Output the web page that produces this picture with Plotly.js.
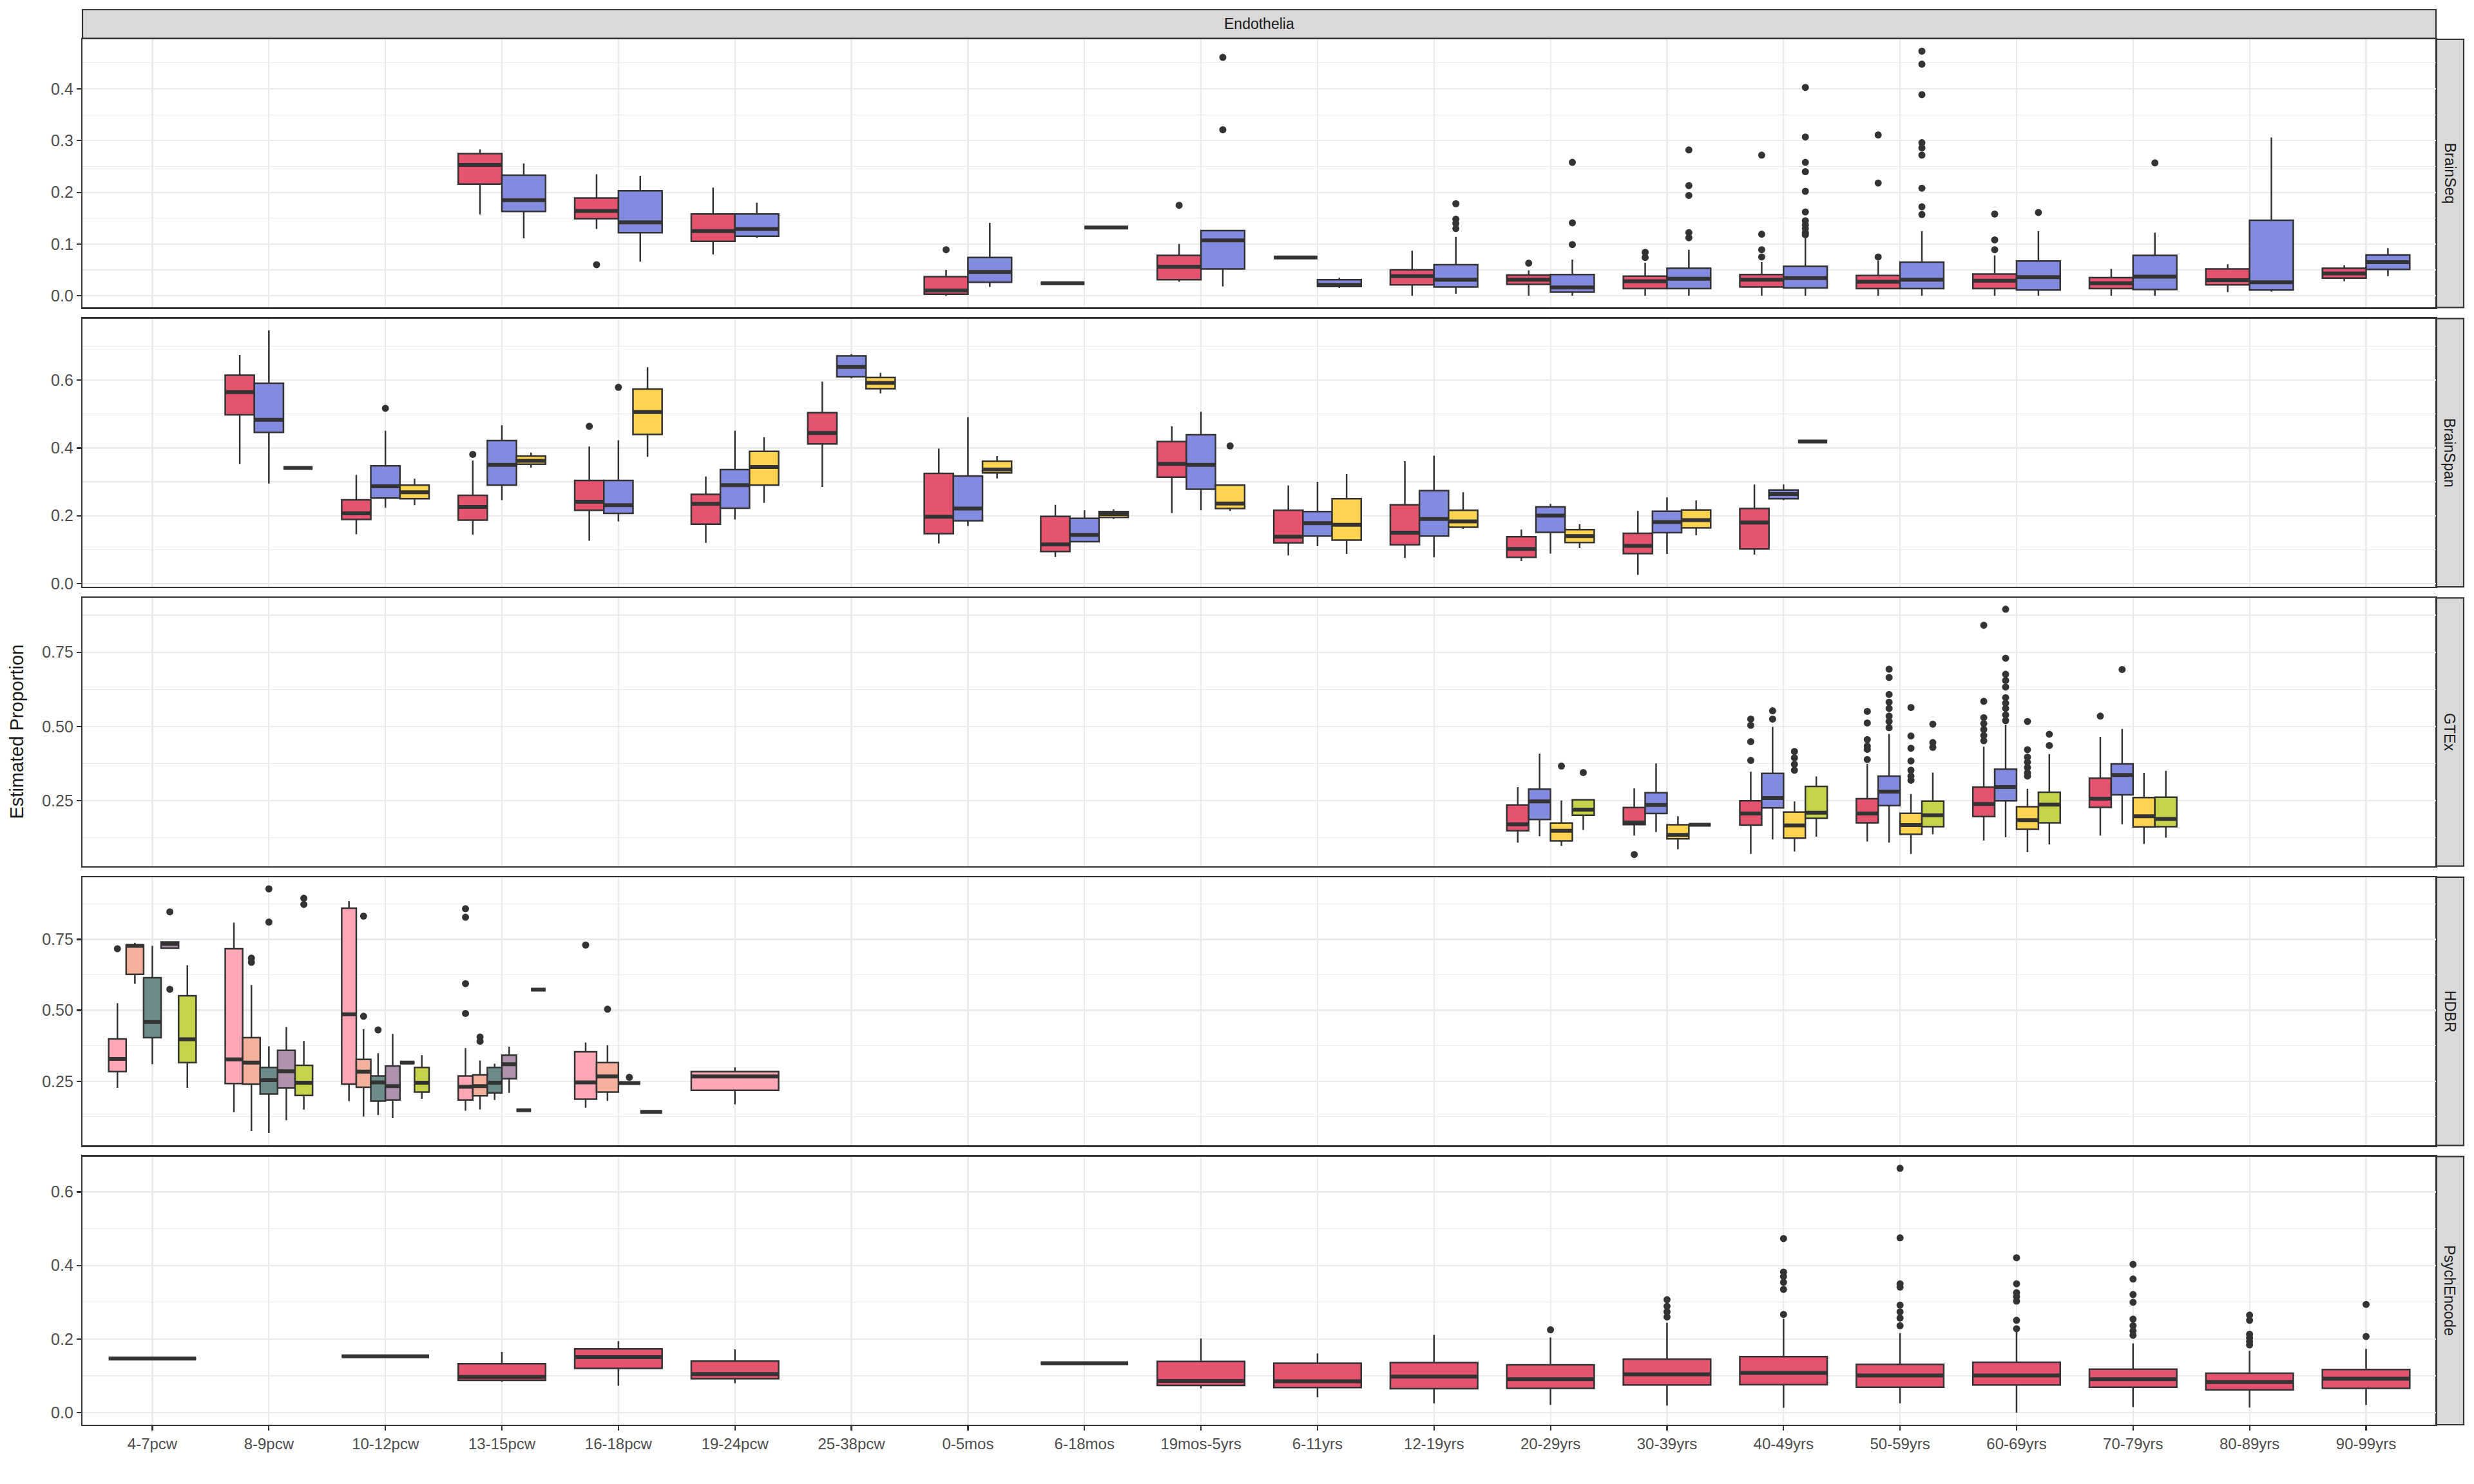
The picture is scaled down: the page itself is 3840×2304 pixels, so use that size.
<!DOCTYPE html>
<html><head><meta charset="utf-8">
<script src="https://cdn.plot.ly/plotly-3.0.1.min.js"></script>
<style>html,body{margin:0;padding:0;background:#fff}</style>
</head><body><div id="chart" style="width:3840px;height:2304px"></div>
<script>
// ---------- DATA ----------
const categories = ['4-7pcw','8-9pcw','10-12pcw','13-15pcw','16-18pcw','19-24pcw','25-38pcw','0-5mos','6-18mos','19mos-5yrs',
  '6-11yrs','12-19yrs','20-29yrs','30-39yrs','40-49yrs','50-59yrs','60-69yrs','70-79yrs','80-89yrs','90-99yrs'];
const facetTitle = 'Endothelia';
const panelNames = ['BrainSeq','BrainSpan','GTEx','HDBR','PsychEncode'];
const yTitle = 'Estimated Proportion';

// rows: [category, lower whisker, q1, median, q3, upper whisker]; outliers: [category, values...]
const brainSeqRed = [
  ['13-15pcw',0.157,0.216,0.253,0.275,0.283],['16-18pcw',0.129,0.149,0.164,0.189,0.235],['19-24pcw',0.080,0.105,0.125,0.158,0.209],
  ['0-5mos',0.000,0.003,0.010,0.037,0.050],['6-18mos',0.024,0.024,0.024,0.024,0.024],['19mos-5yrs',0.027,0.031,0.056,0.078,0.100],
  ['6-11yrs',0.074,0.074,0.074,0.074,0.074],['12-19yrs',0.000,0.021,0.038,0.050,0.087],['20-29yrs',0.000,0.022,0.031,0.040,0.049],
  ['30-39yrs',0.000,0.014,0.028,0.038,0.064],['40-49yrs',0.000,0.017,0.031,0.041,0.065],['50-59yrs',0.000,0.014,0.027,0.039,0.068],
  ['60-69yrs',0.000,0.014,0.029,0.042,0.078],['70-79yrs',0.000,0.014,0.024,0.035,0.052],['80-89yrs',0.007,0.021,0.030,0.052,0.061],
  ['90-99yrs',0.028,0.034,0.043,0.053,0.059]];
const brainSeqRedOut = [['16-18pcw',0.060],['0-5mos',0.089],['19mos-5yrs',0.175],['20-29yrs',0.063],['30-39yrs',0.084,0.074],
  ['40-49yrs',0.272,0.119,0.089,0.075],['50-59yrs',0.311,0.218,0.075],['60-69yrs',0.158,0.108,0.089]];
const brainSeqBlue = [
  ['13-15pcw',0.111,0.163,0.185,0.233,0.256],['16-18pcw',0.066,0.122,0.142,0.203,0.232],['19-24pcw',0.112,0.115,0.129,0.158,0.180],
  ['0-5mos',0.017,0.026,0.046,0.074,0.141],['6-18mos',0.132,0.132,0.132,0.132,0.132],['19mos-5yrs',0.018,0.052,0.107,0.126,0.126],
  ['6-11yrs',0.015,0.018,0.021,0.031,0.035],['12-19yrs',0.004,0.017,0.031,0.060,0.114],['20-29yrs',0.000,0.007,0.016,0.041,0.070],
  ['30-39yrs',0.000,0.014,0.033,0.053,0.089],['40-49yrs',0.000,0.015,0.034,0.057,0.114],['50-59yrs',0.000,0.014,0.031,0.065,0.125],
  ['60-69yrs',0.000,0.011,0.036,0.067,0.125],['70-79yrs',0.000,0.012,0.037,0.078,0.122],['80-89yrs',0.008,0.011,0.026,0.146,0.306],
  ['90-99yrs',0.038,0.051,0.065,0.079,0.092]];
const brainSeqBlueOut = [['19mos-5yrs',0.321,0.461],['12-19yrs',0.178,0.148,0.140,0.130],['20-29yrs',0.258,0.141,0.099],
  ['30-39yrs',0.282,0.213,0.194,0.122,0.112],['40-49yrs',0.403,0.307,0.258,0.240,0.202,0.162,0.145,0.137,0.130,0.122,0.118],
  ['50-59yrs',0.473,0.448,0.389,0.296,0.286,0.272,0.208,0.172,0.157],['60-69yrs',0.161],['70-79yrs',0.257]];

const brainSpanRed = [
  ['8-9pcw',0.353,0.498,0.565,0.615,0.675],['10-12pcw',0.145,0.189,0.207,0.247,0.320],['13-15pcw',0.144,0.187,0.226,0.260,0.363],
  ['16-18pcw',0.126,0.216,0.241,0.304,0.404],['19-24pcw',0.120,0.175,0.235,0.263,0.316],['25-38pcw',0.285,0.412,0.444,0.504,0.596],
  ['0-5mos',0.118,0.147,0.197,0.325,0.398],['6-18mos',0.078,0.094,0.115,0.198,0.232],['19mos-5yrs',0.208,0.314,0.353,0.419,0.464],
  ['6-11yrs',0.083,0.120,0.138,0.216,0.289],['12-19yrs',0.075,0.114,0.150,0.232,0.361],['20-29yrs',0.066,0.077,0.102,0.138,0.159],
  ['30-39yrs',0.025,0.088,0.111,0.148,0.214],['40-49yrs',0.085,0.102,0.180,0.221,0.292]];
const brainSpanRedOut = [['13-15pcw',0.381],['16-18pcw',0.464]];
const brainSpanBlue = [
  ['8-9pcw',0.295,0.446,0.483,0.591,0.747],['10-12pcw',0.224,0.252,0.287,0.347,0.451],['13-15pcw',0.246,0.290,0.350,0.422,0.467],
  ['16-18pcw',0.183,0.207,0.231,0.304,0.423],['19-24pcw',0.189,0.222,0.290,0.336,0.451],['25-38pcw',0.606,0.610,0.639,0.672,0.677],
  ['0-5mos',0.170,0.185,0.221,0.317,0.491],['6-18mos',0.123,0.123,0.143,0.192,0.216],['19mos-5yrs',0.216,0.278,0.350,0.439,0.507],
  ['6-11yrs',0.110,0.140,0.178,0.212,0.300],['12-19yrs',0.077,0.140,0.190,0.274,0.377],['20-29yrs',0.088,0.151,0.200,0.226,0.235],
  ['30-39yrs',0.087,0.150,0.181,0.213,0.254],['40-49yrs',0.246,0.250,0.264,0.276,0.292]];
const brainSpanBlueOut = [['10-12pcw',0.517],['16-18pcw',0.579]];
const brainSpanYellow = [
  ['8-9pcw',0.341,0.341,0.341,0.341,0.341],['10-12pcw',0.231,0.250,0.269,0.290,0.309],['13-15pcw',0.342,0.352,0.362,0.376,0.386],
  ['16-18pcw',0.374,0.440,0.506,0.574,0.638],['19-24pcw',0.238,0.290,0.344,0.390,0.432],['25-38pcw',0.561,0.575,0.592,0.608,0.622],
  ['0-5mos',0.310,0.326,0.336,0.361,0.376],['6-18mos',0.190,0.195,0.205,0.212,0.219],['19mos-5yrs',0.214,0.221,0.236,0.290,0.290],
  ['6-11yrs',0.087,0.128,0.173,0.250,0.323],['12-19yrs',0.161,0.166,0.183,0.216,0.269],['20-29yrs',0.104,0.121,0.140,0.159,0.175],
  ['30-39yrs',0.142,0.164,0.187,0.217,0.245],['40-49yrs',0.419,0.419,0.419,0.419,0.419]];
const brainSpanYellowOut = [['19mos-5yrs',0.406]];

const gtexRed = [
  ['20-29yrs',0.109,0.149,0.171,0.236,0.296],['30-39yrs',0.133,0.170,0.177,0.227,0.292],['40-49yrs',0.071,0.168,0.207,0.250,0.348],
  ['50-59yrs',0.113,0.176,0.207,0.257,0.374],['60-69yrs',0.116,0.197,0.239,0.296,0.432],['70-79yrs',0.133,0.228,0.257,0.326,0.465]];
const gtexRedOut = [['30-39yrs',0.069],['40-49yrs',0.525,0.504,0.449,0.386],['50-59yrs',0.551,0.512,0.456,0.434,0.423,0.389],
  ['60-69yrs',0.841,0.585,0.530,0.510,0.490,0.470,0.452],['70-79yrs',0.535]];
const gtexBlue = [
  ['20-29yrs',0.131,0.187,0.248,0.289,0.409],['30-39yrs',0.145,0.207,0.236,0.277,0.376],['40-49yrs',0.120,0.226,0.259,0.342,0.499],
  ['50-59yrs',0.109,0.234,0.281,0.333,0.475],['60-69yrs',0.127,0.250,0.296,0.356,0.506],['70-79yrs',0.171,0.270,0.337,0.374,0.492]];
const gtexBlueOut = [['40-49yrs',0.553,0.525],['50-59yrs',0.693,0.665,0.608,0.582,0.561,0.535,0.517,0.496],
  ['60-69yrs',0.895,0.730,0.676,0.655,0.633,0.597,0.579,0.561,0.539,0.520],['70-79yrs',0.692]];
const gtexYellow = [
  ['20-29yrs',0.098,0.115,0.149,0.175,0.251],['30-39yrs',0.087,0.122,0.135,0.169,0.198],['40-49yrs',0.079,0.124,0.167,0.212,0.248],
  ['50-59yrs',0.071,0.137,0.168,0.208,0.273],['60-69yrs',0.077,0.154,0.185,0.230,0.290],['70-79yrs',0.105,0.162,0.198,0.261,0.344]];
const gtexYellowOut = [['20-29yrs',0.367],['40-49yrs',0.416,0.395,0.373,0.353],['50-59yrs',0.564,0.468,0.427,0.384,0.353,0.333,0.319],
  ['60-69yrs',0.517,0.422,0.397,0.380,0.362,0.344,0.333]];
const gtexGreen = [
  ['20-29yrs',0.152,0.201,0.220,0.253,0.253],['30-39yrs',0.169,0.169,0.169,0.169,0.169],['40-49yrs',0.129,0.191,0.210,0.298,0.332],
  ['50-59yrs',0.137,0.163,0.201,0.249,0.345],['60-69yrs',0.103,0.176,0.237,0.279,0.407],['70-79yrs',0.126,0.163,0.189,0.262,0.351]];
const gtexGreenOut = [['20-29yrs',0.345],['50-59yrs',0.508,0.446,0.430],['60-69yrs',0.474,0.436]];

const hdbrPink = [
  ['4-7pcw',0.227,0.284,0.329,0.399,0.525],['8-9pcw',0.141,0.242,0.327,0.717,0.809],['10-12pcw',0.180,0.240,0.486,0.860,0.885],
  ['13-15pcw',0.146,0.184,0.231,0.269,0.367],['16-18pcw',0.157,0.187,0.246,0.354,0.387],['19-24pcw',0.169,0.218,0.267,0.284,0.299]];
const hdbrPinkOut = [['4-7pcw',0.717],['13-15pcw',0.858,0.828,0.594,0.489],['16-18pcw',0.730]];
const hdbrSalmon = [
  ['4-7pcw',0.593,0.627,0.727,0.730,0.738],['8-9pcw',0.075,0.240,0.316,0.404,0.589],['10-12pcw',0.126,0.229,0.284,0.327,0.434],
  ['13-15pcw',0.151,0.199,0.233,0.273,0.323],['16-18pcw',0.181,0.212,0.267,0.316,0.377]];
const hdbrSalmonOut = [['8-9pcw',0.684,0.669],['10-12pcw',0.832,0.479],['13-15pcw',0.406,0.391],['16-18pcw',0.504]];
const hdbrTeal = [
  ['4-7pcw',0.310,0.404,0.459,0.615,0.727],['8-9pcw',0.068,0.205,0.254,0.299,0.373],['10-12pcw',0.131,0.180,0.246,0.269,0.349],
  ['13-15pcw',0.184,0.209,0.245,0.299,0.312],['16-18pcw',0.244,0.244,0.244,0.244,0.244]];
const hdbrTealOut = [['8-9pcw',0.928,0.811],['10-12pcw',0.431],['16-18pcw',0.264]];
const hdbrMauve = [
  ['4-7pcw',0.719,0.719,0.734,0.741,0.741],['8-9pcw',0.113,0.226,0.285,0.359,0.441],['10-12pcw',0.120,0.184,0.233,0.304,0.417],
  ['13-15pcw',0.209,0.259,0.310,0.342,0.372],['16-18pcw',0.142,0.142,0.142,0.142,0.142]];
const hdbrMauveOut = [['4-7pcw',0.847,0.574]];
const hdbrOther = [['10-12pcw',0.316,0.316,0.316,0.316,0.316],['13-15pcw',0.148,0.148,0.148,0.148,0.148]];
const hdbrOtherOut = [];
const hdbrGreen = [
  ['4-7pcw',0.227,0.316,0.398,0.551,0.659],['8-9pcw',0.150,0.200,0.245,0.306,0.392],['10-12pcw',0.188,0.212,0.245,0.299,0.342],
  ['13-15pcw',0.573,0.573,0.573,0.573,0.573]];
const hdbrGreenOut = [['8-9pcw',0.895,0.873]];

const psychRed = [
  ['4-7pcw',0.147,0.147,0.147,0.147,0.147],['10-12pcw',0.153,0.153,0.153,0.153,0.153],['13-15pcw',0.084,0.088,0.097,0.133,0.165],
  ['16-18pcw',0.073,0.120,0.151,0.173,0.194],['19-24pcw',0.080,0.092,0.105,0.140,0.172],['6-18mos',0.134,0.134,0.134,0.134,0.134],
  ['19mos-5yrs',0.066,0.074,0.086,0.139,0.201],['6-11yrs',0.042,0.068,0.085,0.134,0.161],['12-19yrs',0.025,0.065,0.098,0.136,0.211],
  ['20-29yrs',0.021,0.066,0.091,0.130,0.204],['30-39yrs',0.019,0.075,0.104,0.145,0.244],['40-49yrs',0.013,0.076,0.108,0.152,0.255],
  ['50-59yrs',0.025,0.069,0.101,0.131,0.216],['60-69yrs',0.000,0.075,0.101,0.137,0.219],['70-79yrs',0.015,0.069,0.091,0.118,0.188],
  ['80-89yrs',0.014,0.062,0.083,0.107,0.168],['90-99yrs',0.021,0.066,0.092,0.117,0.173]];
const psychRedOut = [['20-29yrs',0.225],['30-39yrs',0.307,0.289,0.274,0.260],['40-49yrs',0.473,0.382,0.370,0.354,0.335,0.267],
  ['50-59yrs',0.664,0.475,0.350,0.341,0.292,0.274,0.257,0.236],['60-69yrs',0.421,0.350,0.326,0.315,0.303,0.251,0.228],
  ['70-79yrs',0.403,0.363,0.321,0.300,0.254,0.236,0.222,0.210],['80-89yrs',0.265,0.251,0.213,0.203,0.193,0.184],['90-99yrs',0.294,0.207]];

// ---------- STYLE ----------
const C = {red:'#E6536E', blue:'#828BE0', yellow:'#FED350', green:'#C6D24A',
  pink:'#FFA6B5', salmon:'#F4B09B', teal:'#6D8B8B', mauve:'#AE92AE', other:'#9FB3CF'};
const DARK = '#333333', GRID = '#EBEBEB', FONT = 'Liberation Sans, Arial, Helvetica, sans-serif';

const panels = [
  {range:[-0.0228,0.496], ticks:[0,0.1,0.2,0.3,0.4], minor:[0.05,0.15,0.25,0.35,0.45], dec:1,
   groups:[{fill:C.red,rows:brainSeqRed,out:brainSeqRedOut},{fill:C.blue,rows:brainSeqBlue,out:brainSeqBlueOut}]},
  {range:[-0.0101,0.782], ticks:[0,0.2,0.4,0.6], minor:[0.1,0.3,0.5,0.7], dec:1,
   groups:[{fill:C.red,rows:brainSpanRed,out:brainSpanRedOut},{fill:C.blue,rows:brainSpanBlue,out:brainSpanBlueOut},
           {fill:C.yellow,rows:brainSpanYellow,out:brainSpanYellowOut}]},
  {range:[0.030,0.933], ticks:[0.25,0.5,0.75], minor:[0.125,0.375,0.625,0.875], dec:2,
   groups:[{fill:C.red,rows:gtexRed,out:gtexRedOut},{fill:C.blue,rows:gtexBlue,out:gtexBlueOut},
           {fill:C.yellow,rows:gtexYellow,out:gtexYellowOut},{fill:C.green,rows:gtexGreen,out:gtexGreenOut}]},
  {range:[0.024,0.969], ticks:[0.25,0.5,0.75], minor:[0.125,0.375,0.625,0.875], dec:2,
   groups:[{fill:C.pink,rows:hdbrPink,out:hdbrPinkOut},{fill:C.salmon,rows:hdbrSalmon,out:hdbrSalmonOut},
           {fill:C.teal,rows:hdbrTeal,out:hdbrTealOut},{fill:C.mauve,rows:hdbrMauve,out:hdbrMauveOut},
           {fill:C.other,rows:hdbrOther,out:hdbrOtherOut},{fill:C.green,rows:hdbrGreen,out:hdbrGreenOut}]},
  {range:[-0.033,0.696], ticks:[0,0.2,0.4,0.6], minor:[0.1,0.3,0.5], dec:1,
   groups:[{fill:C.red,rows:psychRed,out:psychRedOut}]}
];

const STEP = 0.2016, H = 1 - 4*STEP;
const boxTraces = [], overTraces = [];
const layout = {
  width:3840, height:2304, margin:{l:128, r:59, t:61, b:92, pad:0},
  paper_bgcolor:'#ffffff', plot_bgcolor:'#ffffff', showlegend:false, boxmode:'overlay',
  font:{family:FONT, color:'#1A1A1A'}, shapes:[], annotations:[], hovermode:false
};

panels.forEach((p, idx) => {
  const sfx = idx === 0 ? '' : String(idx+1);
  const xa = 'x'+sfx, ya = 'y'+sfx;
  const top = 1 - idx*STEP, bot = top - H;
  const present = categories.map(c => p.groups.filter(g => g.rows.some(r => r[0] === c)));
  const posOf = (g, cat) => {
    const ci = categories.indexOf(cat), list = present[ci], n = list.length, k = list.indexOf(g);
    const w = 0.75/n;
    return {pos: ci + 1 - 0.375 + (k+0.5)*w, w: w};
  };
  const medX = [], medY = [], outX = [], outY = [];
  p.groups.forEach(g => {
    g.rows.forEach(r => {
      const d = posOf(g, r[0]);
      boxTraces.push({type:'box', orientation:'v', x:[d.pos], lowerfence:[r[1]], q1:[r[2]], median:[r[3]], q3:[r[4]], upperfence:[r[5]],
        width:d.w, fillcolor:g.fill, line:{color:DARK, width:2.5}, whiskerwidth:0, boxpoints:false,
        xaxis:xa, yaxis:ya, hoverinfo:'skip', showlegend:false});
      medX.push(d.pos - d.w/2, d.pos + d.w/2, null); medY.push(r[3], r[3], null);
    });
    g.out.forEach(o => {
      const d = posOf(g, o[0]);
      for (let j = 1; j < o.length; j++) { outX.push(d.pos); outY.push(o[j]); }
    });
  });
  overTraces.push({type:'scatter', mode:'lines', x:medX, y:medY, line:{color:DARK, width:6}, xaxis:xa, yaxis:ya, hoverinfo:'skip', showlegend:false});
  overTraces.push({type:'scatter', mode:'markers', x:outX, y:outY, marker:{color:DARK, size:11, line:{width:0}}, xaxis:xa, yaxis:ya, hoverinfo:'skip', showlegend:false});

  const isBottom = idx === panels.length - 1;
  layout['xaxis'+sfx] = {anchor:ya, domain:[0,1], range:[0.4,20.6], tickmode:'array', tickvals:categories.map((c,i)=>i+1), ticktext:categories,
    showticklabels:isBottom, ticks:isBottom?'outside':'', ticklen:7, tickwidth:2.2, tickcolor:DARK,
    tickfont:{size:24, color:'#4D4D4D', family:FONT}, showgrid:true, gridcolor:GRID, gridwidth:2.2, zeroline:false,
    showline:true, mirror:true, linecolor:DARK, linewidth:2.2, fixedrange:true};
  layout['yaxis'+sfx] = {anchor:xa, domain:[bot, top], range:p.range, tickmode:'array', tickvals:p.ticks,
    ticktext:p.ticks.map(v => v.toFixed(p.dec)),
    ticks:'outside', ticklen:7, tickwidth:2.2, tickcolor:DARK, tickfont:{size:25, color:'#4D4D4D', family:FONT},
    showgrid:true, gridcolor:GRID, gridwidth:2.2, zeroline:false, showline:true, mirror:true, linecolor:DARK, linewidth:2.2,
    minor:{tickmode:'array', tickvals:p.minor, showgrid:true, gridcolor:GRID, gridwidth:1.1, ticks:''}, fixedrange:true};

  // right strip
  const sw = 43/3653;
  layout.shapes.push({type:'rect', xref:'paper', yref:'paper', x0:1, x1:1+sw, y0:bot, y1:top, fillcolor:'#D9D9D9', line:{color:DARK, width:2.2}, layer:'below'});
  layout.annotations.push({xref:'paper', yref:'paper', x:1+sw/2, y:(top+bot)/2, text:panelNames[idx], textangle:90, showarrow:false,
    font:{size:23, color:'#1A1A1A', family:FONT}, xanchor:'center', yanchor:'middle'});
});

// top strip
const PH = 2151;
layout.shapes.push({type:'rect', xref:'paper', yref:'paper', x0:0, x1:1, y0:1 + 1.5/PH, y1:1 + 46/PH, fillcolor:'#D9D9D9', line:{color:DARK, width:2.2}, layer:'below'});
layout.annotations.push({xref:'paper', yref:'paper', x:0.5, y:1 + 24/PH, text:facetTitle, showarrow:false,
  font:{size:23, color:'#1A1A1A', family:FONT}, xanchor:'center', yanchor:'middle'});
// y title
layout.annotations.push({xref:'paper', yref:'paper', x:-(128-25)/3653, y:0.5, text:yTitle, textangle:-90, showarrow:false,
  font:{size:29, color:'#1A1A1A', family:FONT}, xanchor:'center', yanchor:'middle'});

Plotly.newPlot('chart', boxTraces.concat(overTraces), layout, {staticPlot:true, displayModeBar:false});
</script></body></html>
